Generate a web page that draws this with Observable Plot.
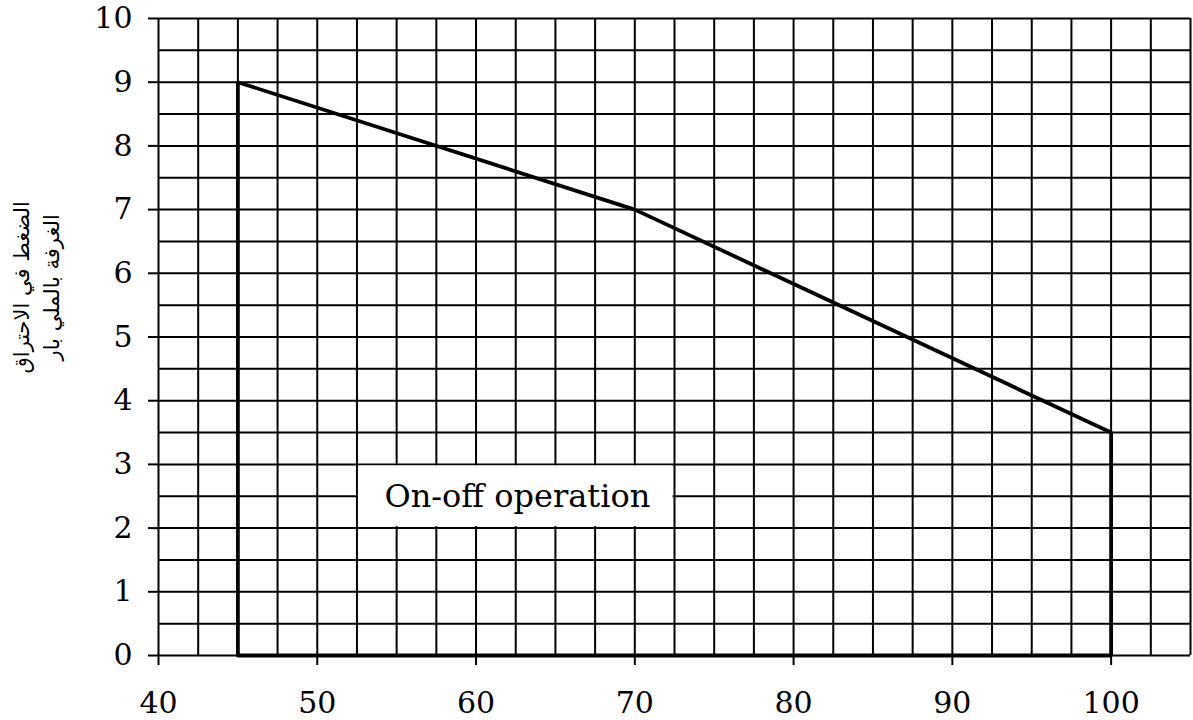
<!DOCTYPE html>
<html><head><meta charset="utf-8">
<script src="https://cdn.jsdelivr.net/npm/d3@7"></script>
<script src="https://cdn.jsdelivr.net/npm/@observablehq/plot@0.6"></script>
<style>body{margin:0;background:#fff} svg{display:block}</style>
</head><body><div id="chart"></div>
<script>
const xTicks = [40, 50, 60, 70, 80, 90, 100];
const yTicks = [0, 1, 2, 3, 4, 5, 6, 7, 8, 9, 10];
const curveX = [45, 45, 70, 100, 100, 45];
const curveY = [0, 9, 7, 3.5, 0, 0];
const boxLabel = "On-off operation";
const yLabelLines = ["الضغط في الاحتراق", "الغرفة بالملي بار"];

const curve = curveX.map((x, i) => ({x, y: curveY[i]}));
const gridXs = d3.range(40, 105.01, 2.5);
const gridYs = d3.range(0, 10.01, 0.5);

const chart = Plot.plot({
  width: 1193, height: 720,
  marginLeft: 158, marginRight: 3, marginTop: 18, marginBottom: 65,
  style: {fontFamily: "DejaVu Serif", color: "black", background: "white"},
  x: {domain: [40, 105]},
  y: {domain: [0, 10]},
  marks: [
    Plot.ruleX(gridXs, {stroke: "black", strokeWidth: 2}),
    Plot.ruleY(gridYs, {stroke: "black", strokeWidth: 2}),
    Plot.rect([{x1: 52.5, x2: 72.5, y1: 2, y2: 3}], {x1: "x1", x2: "x2", y1: "y1", y2: "y2", fill: "white", inset: 1.5}),
    Plot.line(curve, {x: "x", y: "y", stroke: "black", strokeWidth: 3.8, strokeLinejoin: "miter"}),
    Plot.text([boxLabel], {x: 62.6, y: 2.5, text: d => d, fontSize: 32, fontFamily: "DejaVu Serif", fill: "black"}),
    Plot.text([yLabelLines.join("\n")], {frameAnchor: "left", y: 5.78, dx: -124, text: d => d, rotate: -90, textAnchor: "middle", lineAnchor: "middle", fontSize: 21, fontFamily: "DejaVu Sans", lineHeight: 1.43, fill: "black"}),
    Plot.axisX({ticks: xTicks, tickSize: 10, tickPadding: 26, fontSize: 30, label: null, strokeWidth: 2}),
    Plot.axisY({ticks: yTicks, tickSize: 10, tickPadding: 16, fontSize: 30, label: null, strokeWidth: 2})
  ]
});
document.getElementById("chart").appendChild(chart);
</script>
</body></html>
